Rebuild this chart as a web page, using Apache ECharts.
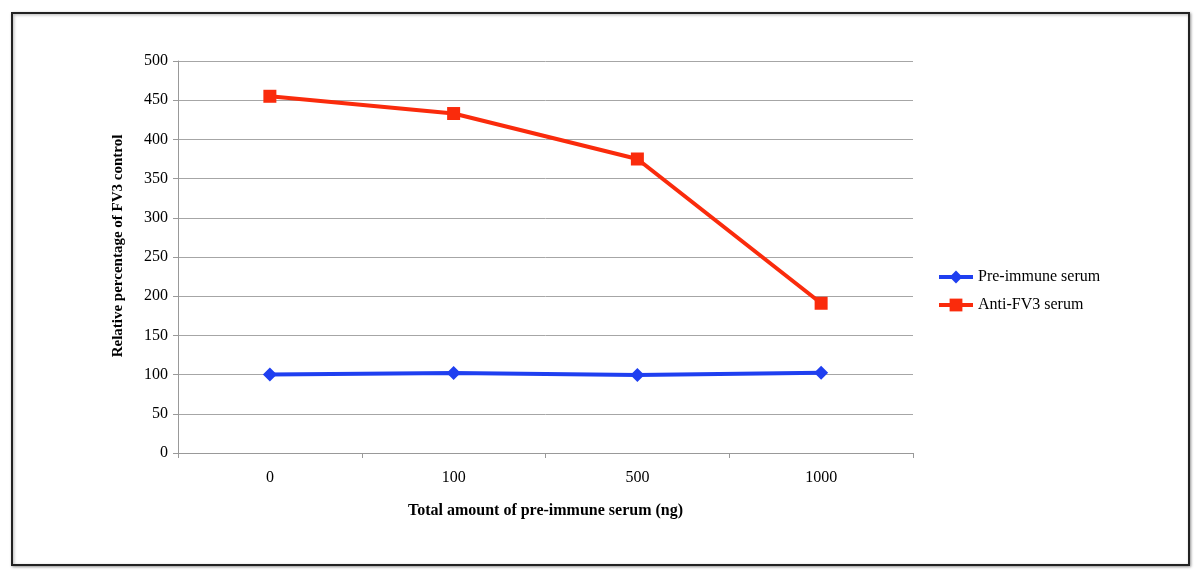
<!DOCTYPE html>
<html><head><meta charset="utf-8">
<script src="https://cdn.jsdelivr.net/npm/echarts@6/dist/echarts.min.js"></script>
<style>html,body{margin:0;padding:0;background:#fff}#c{width:1200px;height:576px}</style>
</head><body><div id="c"></div>
<script>
const categories = ['0', '100', '500', '1000'];
const preImmune = [100, 102, 99.5, 102.5];
const antiFV3 = [455, 433, 375, 191];
const seriesNames = ['Pre-immune serum', 'Anti-FV3 serum'];
const xTitle = 'Total amount of pre-immune serum (ng)';
const yTitle = 'Relative percentage of FV3 control';

const chart = echarts.init(document.getElementById('c'));
const font = '"Liberation Serif", "Times New Roman", serif';
chart.setOption({
  animation: false,
  textStyle: { fontFamily: font },
  graphic: [{
    type: 'rect', left: 11, top: 12, shape: { width: 1177, height: 552 },
    style: { fill: '#fff', stroke: '#222', lineWidth: 2, shadowBlur: 3, shadowColor: 'rgba(0,0,0,0.35)', shadowOffsetX: 1, shadowOffsetY: 1 },
    z: -10
  }],
  grid: { left: 178, top: 61, width: 735, height: 392 },
  legend: {
    orient: 'vertical', left: 937, top: 269, itemGap: 12, padding: 0,
    itemWidth: 34, itemHeight: 16,
    lineStyle: { width: 4 },
    textStyle: { fontFamily: font, fontSize: 16, color: '#000' },
    data: seriesNames
  },
  xAxis: {
    type: 'category', data: categories, boundaryGap: true,
    name: xTitle, nameLocation: 'middle', nameGap: 50,
    nameTextStyle: { fontFamily: font, fontSize: 16, fontWeight: 'bold', color: '#000' },
    axisLine: { lineStyle: { color: '#999', width: 1 } },
    axisTick: { show: true, length: 5, lineStyle: { color: '#999' } },
    axisLabel: { fontFamily: font, fontSize: 16, color: '#000', margin: 17 }
  },
  yAxis: {
    type: 'value', min: 0, max: 500, interval: 50,
    name: yTitle, nameLocation: 'middle', nameGap: 52,
    nameTextStyle: { fontFamily: font, fontSize: 15, fontWeight: 'bold', color: '#000', padding: [0, 0, 0, 22] },
    axisLine: { show: true, lineStyle: { color: '#999', width: 1 } },
    axisTick: { show: true, length: 5, lineStyle: { color: '#999' } },
    axisLabel: { fontFamily: font, fontSize: 16, color: '#000', margin: 10 },
    splitLine: { lineStyle: { color: '#a6a6a6', width: 1 } }
  },
  series: [
    { name: seriesNames[0], type: 'line', data: preImmune, symbol: 'diamond', symbolSize: 14,
      lineStyle: { color: '#1f3ff0', width: 4 }, itemStyle: { color: '#1f3ff0' } },
    { name: seriesNames[1], type: 'line', data: antiFV3, symbol: 'rect', symbolSize: 13,
      lineStyle: { color: '#fa2b0c', width: 4 }, itemStyle: { color: '#fa2b0c' } }
  ]
});
</script></body></html>
